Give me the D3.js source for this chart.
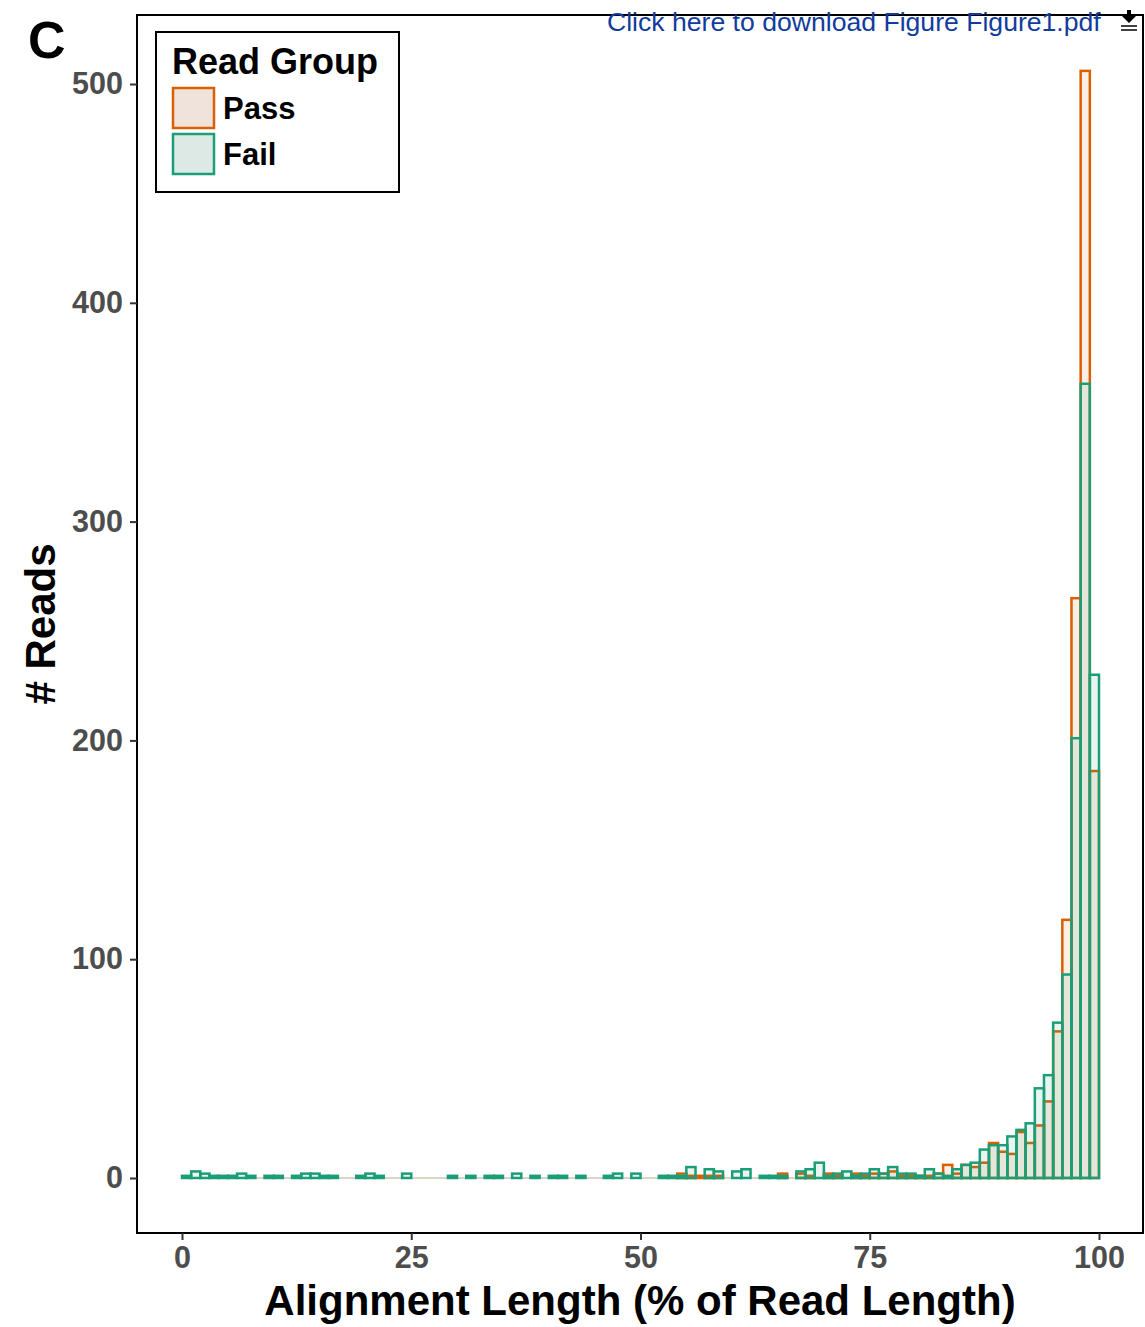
<!DOCTYPE html>
<html>
<head>
<meta charset="utf-8">
<script src="https://cdn.jsdelivr.net/npm/d3@7"></script>
<style>
  body { margin: 0; background: #fff; }
  text { font-family: "Liberation Sans", Arial, sans-serif; }
</style>
</head>
<body>
<svg id="chart"></svg>
<script>
// histogram counts per 1% bin, bins 0-1 ... 99-100
const binWidth = 1;
const binStarts = d3.range(0, 100, binWidth);
const failCounts = [
  1, 3, 2, 1, 1, 1, 2, 1, 0, 1,
  1, 0, 1, 2, 2, 1, 1, 0, 0, 1,
  2, 1, 0, 0, 2, 0, 0, 0, 0, 1,
  0, 1, 0, 1, 1, 0, 2, 0, 1, 0,
  1, 1, 0, 1, 0, 0, 1, 2, 0, 2,
  0, 0, 1, 1, 1, 5, 0, 4, 3, 0,
  3, 4, 0, 1, 1, 1, 0, 3, 4, 7,
  1, 2, 3, 1, 2, 4, 2, 5, 2, 2,
  1, 4, 2, 1, 4, 6, 7, 13, 15, 15,
  19, 22, 25, 41, 47, 71, 93, 201, 363, 230
];
const passCounts = [
  0, 0, 0, 0, 0, 0, 0, 0, 0, 0,
  0, 0, 0, 0, 0, 0, 0, 0, 0, 0,
  0, 0, 0, 0, 0, 0, 0, 0, 0, 0,
  0, 0, 0, 0, 0, 0, 0, 0, 0, 0,
  0, 0, 0, 0, 0, 0, 0, 0, 0, 0,
  0, 0, 0, 0, 2, 1, 1, 1, 1, 0,
  0, 0, 0, 0, 0, 2, 0, 2, 1, 0,
  2, 1, 0, 2, 1, 2, 2, 3, 1, 1,
  1, 1, 2, 6, 2, 6, 5, 7, 16, 12,
  11, 21, 16, 24, 35, 67, 118, 265, 506, 186
];
const groups = ['Pass', 'Fail'];
const xTicks = [0, 25, 50, 75, 100];
const yTicks = [0, 100, 200, 300, 400, 500];

const stroke = {Pass: '#d95f02', Fail: '#1b9e77'};
const keyFill = {Pass: '#f0e3dc', Fail: '#dde9e4'};
const fillOp = 0.1;

const W = 1145, H = 1327;
const panel = {left: 137, top: 15, right: 1143, bottom: 1233};

const svg = d3.select('#chart').attr('width', W).attr('height', H);

const x = d3.scaleLinear().domain([0, 100]).range([182, 1099]);
const y = d3.scaleLinear().domain([0, 500]).range([1178, 84]);

// panel
svg.append('rect')
  .attr('x', panel.left).attr('y', panel.top)
  .attr('width', panel.right - panel.left).attr('height', panel.bottom - panel.top)
  .attr('fill', 'none').attr('stroke', '#000').attr('stroke-width', 2);

// baseline of empty bins
svg.append('line')
  .attr('x1', x(0)).attr('x2', x(100))
  .attr('y1', y(0)).attr('y2', y(0))
  .attr('stroke', '#cfc6b4').attr('stroke-width', 1.5);

const series = {Pass: passCounts, Fail: failCounts};
groups.forEach(g => {
  const bins = binStarts.map((b, i) => ({x0: b, x1: b + binWidth, n: series[g][i]}))
    .filter(d => d.n > 0);
  svg.append('g').selectAll('rect')
    .data(bins)
    .join('rect')
    .attr('x', d => x(d.x0))
    .attr('width', d => x(d.x1) - x(d.x0))
    .attr('y', d => y(d.n))
    .attr('height', d => y(0) - y(d.n))
    .attr('fill', stroke[g]).attr('fill-opacity', fillOp)
    .attr('stroke', stroke[g]).attr('stroke-width', 2.5);
});

// axes
const xAxis = d3.axisBottom(x).tickValues(xTicks).tickSize(7).tickPadding(6);
const gx = svg.append('g').attr('transform', `translate(0,${panel.bottom})`).call(xAxis);
const yAxis = d3.axisLeft(y).tickValues(yTicks).tickSize(7).tickPadding(7);
const gy = svg.append('g').attr('transform', `translate(${panel.left},0)`).call(yAxis);
[gx, gy].forEach(g => {
  g.select('.domain').remove();
  g.selectAll('.tick line').attr('stroke', '#333').attr('stroke-width', 2);
  g.selectAll('.tick text')
    .attr('fill', '#4d4d4d')
    .style('font-size', '30.5px')
    .style('font-weight', 'bold')
    .style('font-family', '"Liberation Sans", Arial, sans-serif');
});

// titles
svg.append('text')
  .attr('x', (panel.left + panel.right) / 2).attr('y', 1315)
  .attr('text-anchor', 'middle')
  .style('font-size', '42px').style('font-weight', 'bold')
  .text('Alignment Length (% of Read Length)');

svg.append('text')
  .attr('transform', `translate(55,${(panel.top + panel.bottom) / 2}) rotate(-90)`)
  .attr('text-anchor', 'middle')
  .style('font-size', '42px').style('font-weight', 'bold')
  .text('# Reads');

svg.append('text')
  .attr('x', 28).attr('y', 58)
  .style('font-size', '52px').style('font-weight', 'bold')
  .text('C');

// legend
const lg = svg.append('g');
lg.append('rect')
  .attr('x', 156).attr('y', 32).attr('width', 243).attr('height', 160)
  .attr('fill', '#fff').attr('stroke', '#000').attr('stroke-width', 2);
lg.append('text')
  .attr('x', 172).attr('y', 74)
  .style('font-size', '36px').style('font-weight', 'bold')
  .text('Read Group');
groups.forEach((g, i) => {
  const ky = 88 + i * 46;
  lg.append('rect')
    .attr('x', 173).attr('y', ky).attr('width', 41).attr('height', 40)
    .attr('fill', keyFill[g])
    .attr('stroke', stroke[g]).attr('stroke-width', 2.5);
  lg.append('text')
    .attr('x', 223).attr('y', ky + 31)
    .style('font-size', '31px').style('font-weight', 'bold')
    .text(g);
});

// download banner
svg.append('text')
  .attr('x', 607).attr('y', 31)
  .attr('fill', '#123c9c')
  .style('font-size', '26.6px')
  .text('Click here to download Figure Figure1.pdf');
const icon = svg.append('g').attr('transform', 'translate(1129,24)');
icon.append('path').attr('d', 'M-7,-8 L7,-8 L0,-1 Z M-2,-14 L2,-14 L2,-8 L-2,-8 Z').attr('fill', '#000');
icon.append('line').attr('x1', -8).attr('x2', 8).attr('y1', 2).attr('y2', 2).attr('stroke', '#000').attr('stroke-width', 1.5);
icon.append('line').attr('x1', -8).attr('x2', 8).attr('y1', 6).attr('y2', 6).attr('stroke', '#000').attr('stroke-width', 1.5);
</script>
</body>
</html>
